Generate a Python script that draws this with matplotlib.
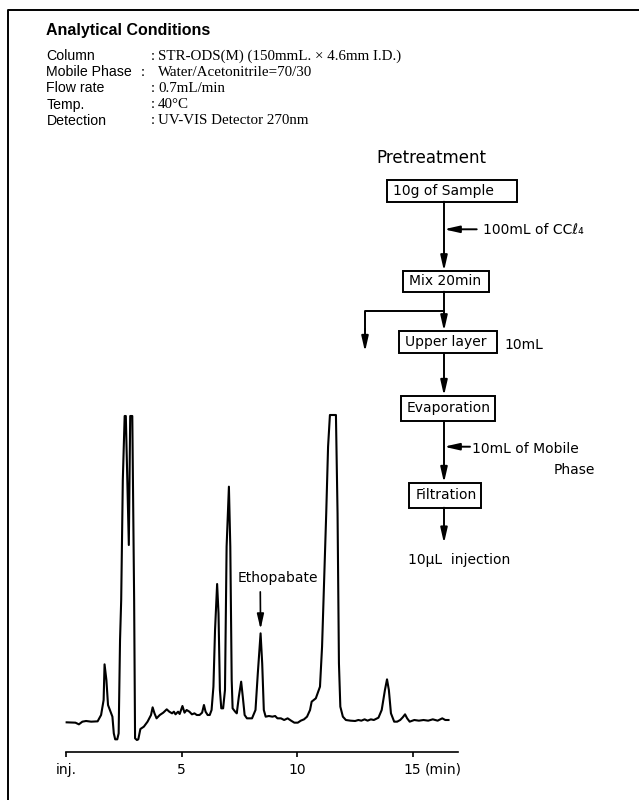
import matplotlib
matplotlib.use("Agg")
import matplotlib.pyplot as plt
from matplotlib.patches import Rectangle

# Analytical conditions (label, value)
cond_labels = ["Column", "Mobile Phase", "Flow rate", "Temp.", "Detection"]
cond_values = ["STR-ODS(M) (150mmL. \u00d7 4.6mm I.D.)",
               "Water/Acetonitrile=70/30",
               "0.7mL/min",
               "40\u00b0C",
               "UV-VIS Detector 270nm"]

# Pretreatment steps
steps = ["10g of Sample", "Mix 20min", "Upper layer", "Evaporation", "Filtration"]
side_notes = ["100mL of CC\u2113\u2084", "10mL", "10mL of Mobile", "Phase"]
final_step = "10\u03bcL  injection"

# Chromatogram trace: time (min) and detector signal
time_min = [0.03, 0.41, 0.56, 0.71, 0.87, 1.09, 1.37, 1.52, 1.63, 1.67,
            1.75, 1.82, 1.90, 2.01, 2.07, 2.13, 2.22, 2.28, 2.34, 2.39,
            2.46, 2.54, 2.59, 2.72, 2.78, 2.87, 2.95, 2.99, 3.07, 3.13,
            3.22, 3.37, 3.53, 3.68, 3.75, 3.83, 3.92, 4.06, 4.21, 4.36,
            4.47, 4.59, 4.67, 4.74, 4.85, 4.92, 5.04, 5.13, 5.22, 5.34,
            5.45, 5.56, 5.66, 5.78, 5.89, 5.97, 6.04, 6.13, 6.22, 6.30,
            6.38, 6.45, 6.54, 6.60, 6.66, 6.72, 6.80, 6.88, 6.95, 7.05,
            7.11, 7.17, 7.21, 7.32, 7.39, 7.48, 7.58, 7.65, 7.73, 7.83,
            8.05, 8.20, 8.30, 8.42, 8.49, 8.56, 8.64, 8.78, 8.93, 9.05,
            9.15, 9.30, 9.44, 9.59, 9.74, 9.88, 10.03, 10.16, 10.30, 10.43,
            10.56, 10.63, 10.81, 10.91, 10.99, 11.08, 11.17, 11.26, 11.34, 11.42,
            11.68, 11.75, 11.81, 11.87, 11.98, 12.11, 12.31, 12.51, 12.65, 12.78,
            12.92, 13.05, 13.19, 13.32, 13.52, 13.66, 13.80, 13.89, 13.97, 14.06,
            14.20, 14.33, 14.46, 14.57, 14.67, 14.76, 14.87, 15.07, 15.27, 15.47,
            15.67, 15.87, 16.08, 16.28, 16.41, 16.55]
signal = [-0.2, -0.3, -0.8, 0.0, 0.2, 0.0, 0.1, 2.0, 6.5, 17.2,
          12.5, 5.0, 3.5, 1.5, -3.5, -5.3, -5.3, -3.5, 24.5, 36.5,
          72.5, 91.7, 91.7, 53.0, 91.7, 91.7, 36.5, -5.0, -5.5, -5.3,
          -2.2, -1.5, 0.0, 2.0, 4.3, 2.5, 1.0, 2.0, 2.7, 3.7,
          3.0, 2.5, 3.0, 2.2, 3.0, 2.3, 4.7, 2.7, 3.5, 3.0,
          2.2, 2.5, 2.0, 2.0, 2.7, 5.0, 3.0, 2.0, 2.0, 3.5,
          10.5, 27.5, 41.3, 32.5, 9.5, 4.0, 4.0, 9.5, 52.5, 70.5,
          52.5, 12.5, 4.0, 3.0, 2.5, 7.5, 12.0, 7.5, 2.0, 1.0,
          1.0, 3.5, 14.5, 26.5, 17.5, 3.5, 1.5, 1.7, 1.5, 1.7,
          1.0, 1.0, 0.5, 1.0, 0.3, -0.3, -0.3, 0.3, 0.7, 1.5,
          3.5, 6.0, 7.0, 9.0, 10.5, 22.5, 42.5, 62.5, 82.5, 92.0,
          92.0, 62.5, 17.5, 4.5, 1.5, 0.5, 0.3, 0.2, 0.5, 0.3,
          0.7, 0.3, 0.7, 0.5, 1.2, 3.5, 9.5, 12.7, 9.5, 2.5,
          0.0, 0.0, 0.5, 1.3, 2.2, 1.0, 0.0, 0.5, 0.3, 0.5,
          0.3, 0.7, 0.3, 1.0, 0.5, 0.5]
peak_name = "Ethopabate"
peak_time = 8.42
peak_height = 26.5

W, H = 639, 800
fig = plt.figure(figsize=(W / 100, H / 100), dpi=100)

# page layer in pixel units
bg = fig.add_axes([0, 0, 1, 1])
bg.set_xlim(0, W)
bg.set_ylim(H, 0)
bg.axis("off")

# frame (only left and top edges are visible in the crop)
bg.plot([7.5, 7.5, W], [H, 10, 10], color="black", lw=1.4)

bg.text(46.5, 31, "Analytical Conditions", fontsize=11.5, fontweight="bold",
        family="Liberation Sans", va="center", ha="left")
for i, (lab, val) in enumerate(zip(cond_labels, cond_values)):
    y = 56 + i * 16.2
    bg.text(46.5, y, lab, fontsize=10.2, family="Liberation Sans", va="center")
    cx = 141 if lab == "Mobile Phase" else 151
    bg.text(cx, y, ":", fontsize=10.8, family="Liberation Serif", va="center")
    bg.text(158, y, val, fontsize=10.8, family="Liberation Serif", va="center")

# Pretreatment flow chart
ff = "DejaVu Sans"
bg.text(376, 158, "Pretreatment", fontsize=12, family=ff, va="center")
boxes = [(386.7, 180, 516.7, 201.7), (403.3, 271, 489.3, 291.7),
         (399.3, 331, 497.3, 353.3), (401, 395.7, 495, 421),
         (409.3, 482.7, 480.7, 507.7)]
for (x0, y0, x1, y1), s in zip(boxes, steps):
    bg.add_patch(Rectangle((x0, y0), x1 - x0, y1 - y0, fill=False,
                           lw=1.4, ec="black"))
    bg.text(x0 + 6, (y0 + y1) / 2, s, fontsize=10, family=ff,
            va="center", ha="left")

lx = 444
head = "-|>,head_length=0.75,head_width=0.17"
ap = dict(arrowstyle=head, lw=1.4, color="black", mutation_scale=12,
          shrinkA=0, shrinkB=0)


def arrow(x0, y0, x1, y1):
    bg.annotate("", xy=(x1, y1), xytext=(x0, y0), arrowprops=ap)


arrow(lx, 201.7, lx, 271)
arrow(lx, 291.7, lx, 331)
arrow(lx, 353.3, lx, 395.7)
arrow(lx, 421, lx, 482.7)
arrow(lx, 507.7, lx, 543.3)
# side inputs
arrow(476.7, 229.3, lx, 229.3)
arrow(470, 446.7, lx, 446.7)
# lower layer discarded
bg.plot([lx, 365, 365], [310.7, 310.7, 330], color="black", lw=1.4)
arrow(365, 329, 365, 351.7)

bg.text(483, 229.5, side_notes[0], fontsize=10, family=ff, va="center")
bg.text(504, 345, side_notes[1], fontsize=10, family=ff, va="center")
bg.text(471.5, 449, side_notes[2], fontsize=10, family=ff, va="center")
bg.text(595, 469.5, side_notes[3], fontsize=10, family=ff, va="center",
        ha="right")
bg.text(408, 560, final_step, fontsize=10, family=ff, va="center")

# chromatogram
ax = fig.add_axes([50 / W, 48 / H, 420 / W, 352 / H])
ax.patch.set_visible(False)
ax.plot(time_min, signal, color="black", lw=1.5, solid_joinstyle="round")
ax.set_xlim(-0.69, 17.48)
ax.set_ylim(-9.1, 96.5)
for s in ["left", "right", "top"]:
    ax.spines[s].set_visible(False)
ax.spines["bottom"].set_bounds(0, 16.95)
ax.spines["bottom"].set_linewidth(1.2)
ax.set_yticks([])
ax.set_xticks([0, 5, 10, 15])
ax.set_xticklabels(["inj.", "5", "10", "15"])
ax.tick_params(axis="x", direction="out", length=3.6, width=1.2, pad=4,
               labelsize=10)
for t in ax.get_xticklabels():
    t.set_family(ff)
ax.annotate("(min)", xy=(15, 0), xycoords=("data", "axes fraction"),
            xytext=(8.6, -7.6), textcoords="offset points", ha="left",
            va="top", fontsize=10, family=ff)

ax.annotate(peak_name, xy=(peak_time, peak_height + 1.2), xytext=(12.5, 37),
            textcoords="offset points", ha="center", va="center",
            fontsize=10, family=ff,
            arrowprops=dict(arrowstyle=head, lw=1.2, color="black",
                            mutation_scale=12, relpos=(0.28, 0),
                            shrinkA=3, shrinkB=0))

fig.savefig("out.png", dpi=100)
